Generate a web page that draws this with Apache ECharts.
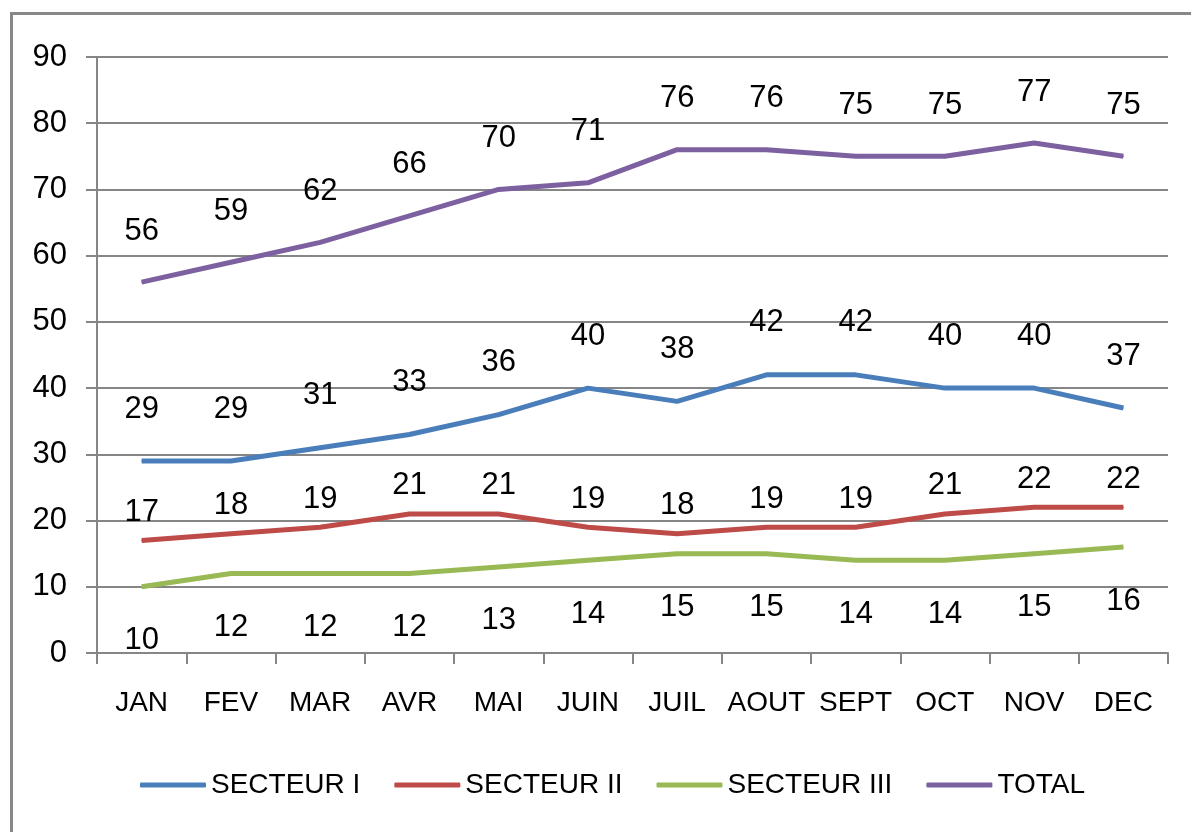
<!DOCTYPE html>
<html>
<head>
<meta charset="utf-8">
<title>Secteurs</title>
<script src="https://cdn.jsdelivr.net/npm/echarts@6/dist/echarts.min.js"></script>
<style>
  html, body { margin: 0; padding: 0; background: #fff; }
  .wrap { position: relative; width: 1191px; height: 832px; }
  #chart { width: 1191px; height: 832px; }
  /* cadre gris haut + gauche */
  .frame { position: absolute; left: 10px; top: 12px; right: 0; bottom: 0;
    border-top: 3px solid #888; border-left: 3px solid #888; pointer-events: none; }
</style>
</head>
<body>
<div class="wrap">
  <div id="chart"></div>
  <div class="frame"></div>
</div>
<script>
// données
var months = ['JAN', 'FEV', 'MAR', 'AVR', 'MAI', 'JUIN', 'JUIL', 'AOUT', 'SEPT', 'OCT', 'NOV', 'DEC']
var secteur1 = [29, 29, 31, 33, 36, 40, 38, 42, 42, 40, 40, 37]
var secteur2 = [17, 18, 19, 21, 21, 19, 18, 19, 19, 21, 22, 22]
var secteur3 = [10, 12, 12, 12, 13, 14, 15, 15, 14, 14, 15, 16]
var total = [56, 59, 62, 66, 70, 71, 76, 76, 75, 75, 77, 75]

var font = 'Liberation Sans'
var gray = '#868686'

function makeSerie (name, data, color, pos, dist) {
  return {
    name: name,
    type: 'line',
    data: data,
    symbol: 'circle',
    symbolSize: 1,
    lineStyle: { width: 5, color: color },
    itemStyle: { color: color },
    label: {
      show: true,
      position: pos,
      distance: dist,
      color: '#000',
      fontSize: 31,
      fontFamily: font
    },
    emphasis: { disabled: true }
  }
}

var chart = echarts.init(document.getElementById('chart'), null, { renderer: 'canvas' })
chart.setOption({
  animation: false,
  color: ['#4a7ebb', '#be4b48', '#98b954', '#7d60a0'],
  grid: { left: 97, right: 23, top: 57, bottom: 179, containLabel: false },
  xAxis: {
    type: 'category',
    data: months,
    boundaryGap: true,
    axisLine: { lineStyle: { color: gray, width: 2 } },
    axisTick: { show: true, length: 11, lineStyle: { color: gray, width: 2 } },
    axisLabel: { interval: 0, margin: 36, color: '#000', fontSize: 28, fontFamily: font },
    splitLine: { show: false }
  },
  yAxis: {
    type: 'value',
    min: 0,
    max: 90,
    interval: 10,
    axisLine: { show: true, lineStyle: { color: gray, width: 2 } },
    axisTick: { show: true, length: 11, lineStyle: { color: gray, width: 2 } },
    axisLabel: { margin: 30, color: '#000', fontSize: 31, fontFamily: font },
    splitLine: { lineStyle: { color: gray, width: 2 } }
  },
  legend: {
    top: 766,
    left: 135,
    icon: 'roundRect',
    itemWidth: 66,
    itemHeight: 5,
    itemGap: 34,
    textStyle: { color: '#000', fontSize: 28, fontFamily: font },
    data: ['SECTEUR I', 'SECTEUR II', 'SECTEUR III', 'TOTAL']
  },
  series: [
    makeSerie('SECTEUR I', secteur1, '#4a7ebb', 'top', 36),
    makeSerie('SECTEUR II', secteur2, '#be4b48', 'top', 12),
    makeSerie('SECTEUR III', secteur3, '#98b954', 'bottom', 38),
    makeSerie('TOTAL', total, '#7d60a0', 'top', 35)
  ]
})
</script>
</body>
</html>
